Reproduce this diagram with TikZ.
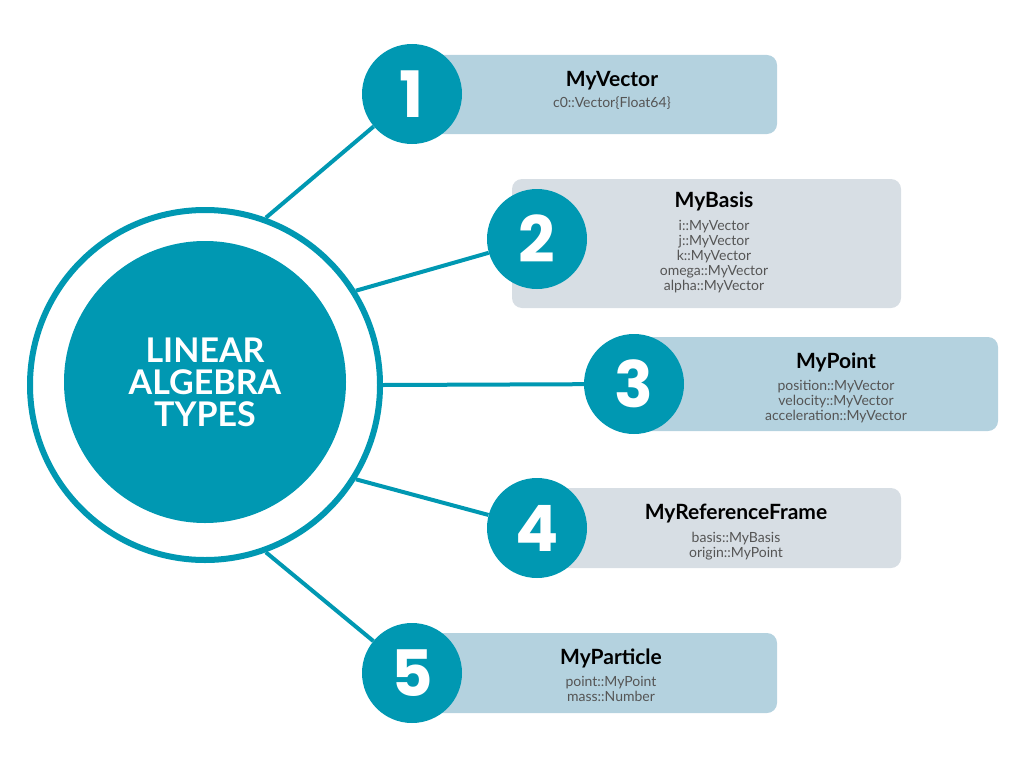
\documentclass[tikz,border=0pt]{standalone}
\usepackage{fontspec}
\setmainfont{Lato}
\newfontfamily\numfont{Poppins}
\definecolor{hubteal}{HTML}{0098B2}
\definecolor{cardblue}{HTML}{B4D2DF}
\definecolor{cardgray}{HTML}{D7DEE4}
\definecolor{fieldgray}{HTML}{555555}

\begin{document}
\begin{tikzpicture}[
    x=1pt, y=-1pt,
    ring/.style={draw=hubteal, line width=6pt, circle, minimum size=350pt, inner sep=0pt},
    hub/.style={fill=hubteal, circle, minimum size=282pt, inner sep=0pt, text=white, align=center, font=\fontsize{34}{32}\selectfont\bfseries},
    num/.style={fill=hubteal, circle, minimum size=100pt, inner sep=0pt, text=white, font=\numfont\fontsize{64}{64}\selectfont\bfseries},
    link/.style={draw=hubteal, line width=4pt},
    card/.style={rounded corners=10pt},
    ttl/.style={anchor=base, inner sep=0pt, font=\fontsize{21}{22}\selectfont\bfseries},
    fld/.style={anchor=base, inner sep=0pt, align=center, text=fieldgray, font=\fontsize{14}{15}\selectfont}
]
\useasboundingbox (0,0) rectangle (1024,768);

% cards
\fill[cardblue, card] (412,55) rectangle (777,134);
\fill[cardgray, card] (512,179) rectangle (901,308);
\fill[cardblue, card] (634,337) rectangle (998,431);
\fill[cardgray, card] (537,488) rectangle (901,568);
\fill[cardblue, card] (412,633) rectangle (777,713);

% hub
\node[ring] (ring) at (205,385) {};
\node[hub] (hub) at (205,382) {LINEAR\\ALGEBRA\\TYPES};

% numbers
\node[num] (n1) at (412,94) {1};
\node[num] (n2) at (537,239) {2};
\node[num] (n3) at (634,384) {3};
\node[num] (n4) at (537,528) {4};
\node[num] (n5) at (412,673) {5};

\draw[link] (ring.70) -- (n1);
\draw[link] (ring.32) -- (n2);
\draw[link] (ring.0) -- (n3);
\draw[link] (ring.-32) -- (n4);
\draw[link] (ring.-70) -- (n5);

% texts (fields: base = last line)
\node[ttl] (t1) at (612,86) {MyVector};
\node[fld] (f1) at (612,107) {c0::Vector\{Float64\}};

\node[ttl] (t2) at (714,207) {MyBasis};
\node[fld] (f2) at (714,290) {i::MyVector\\ j::MyVector\\k::MyVector\\omega::MyVector\\alpha::MyVector};

\node[ttl] (t3) at (836,368) {MyPoint};
\node[fld] (f3) at (836,420) {position::MyVector\\velocity::MyVector\\acceleration::MyVector};

\node[ttl] (t4) at (736,519) {MyReferenceFrame};
\node[fld] (f4) at (736,557) {basis::MyBasis\\origin::MyPoint};

\node[ttl] (t5) at (611,664) {MyParticle};
\node[fld] (f5) at (611,701) {point::MyPoint\\mass::Number};
\end{tikzpicture}
\end{document}
